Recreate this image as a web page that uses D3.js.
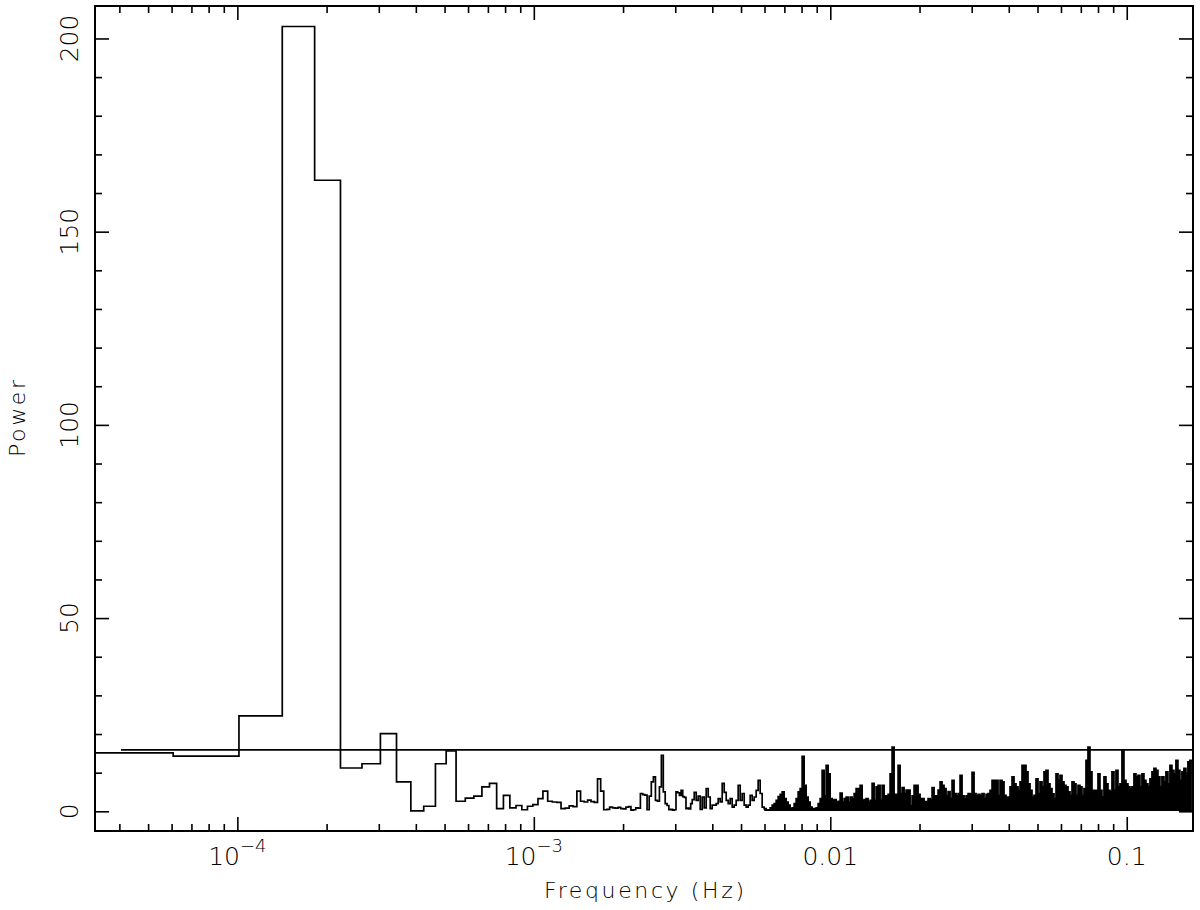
<!DOCTYPE html>
<html>
<head>
<meta charset="utf-8">
<script src="https://cdn.jsdelivr.net/npm/d3@7"></script>
<style>
  body { margin: 0; background: #fff; }
  text { font-family: "DejaVu Sans", sans-serif; font-weight: 200; fill: #000; }
</style>
</head>
<body>
<div id="chart"></div>
<script>
// Frequency resolution of the periodogram (Hz), bin k is centred on k*df
const df = 4.05e-5;

// Power of the first 84 Fourier bins
const lowPower = [
  15.1, 14.3, 24.7, 203.1, 163.3, 11.2, 12.3, 20.1, 7.6, 0.1,
  1.3, 12.3, 15.6, 2.6, 3.4, 3.9, 6.3, 7.2, 0.7, 4.1,
  0.9, 1.5, 0.4, 1.3, 1.7, 3.3, 5.2, 2.6, 2.4, 2.3,
  0.7, 0.8, 1.4, 1.2, 5.2, 2.6, 2.4, 2.9, 2.5, 2.3,
  8.4, 5.2, 0.4, 0.5, 1.1, 0.9, 0.8, 1.0, 0.7, 0.6,
  1.1, 1.2, 0.3, 0.4, 0.9, 0.8, 4.6, 4.3, 4.2, 0.4,
  3.9, 7.6, 8.9, 2.8, 2.6, 6.3, 14.5, 5.0, 2.0, 1.5,
  0.4, 0.5, 0.3, 0.4, 5.0, 4.8, 4.1, 5.4, 3.8, 3.6,
  0.7, 0.8, 0.6, 2.0
];

// Above bin 84 the bins are narrower than a pixel:
// peak power in each of 250 log-spaced slices up to the Nyquist bin (4096)
const denseStart = 84.5 * df;
const denseEnd = 4096.5 * df;
const densePower = [
  3.0, 4.9, 2.8, 3.9, 0.5, 3.7, 0.9, 5.9, 3.7, 0.7,
  1.6, 1.6, 2.0, 3.3, 2.4, 7.2, 4.9, 2.8, 2.0, 3.3,
  1.1, 1.6, 2.8, 6.7, 2.8, 4.6, 1.6, 1.1, 1.6, 4.1,
  2.8, 3.7, 5.4, 8.0, 4.6, 1.1, 0.7, 0.3, 0.4, 0.9,
  1.6, 2.0, 2.8, 3.8, 4.4, 5.0, 3.3, 2.4, 1.6, 0.7,
  0.9, 2.0, 3.3, 5.0, 5.9, 14.2, 6.7, 3.7, 2.4, 1.1,
  0.7, 0.7, 0.9, 2.0, 3.3, 10.6, 4.0, 11.9, 9.7, 3.3,
  2.8, 3.0, 2.4, 2.6, 4.7, 2.4, 3.3, 3.7, 2.4, 3.7,
  3.3, 4.6, 5.9, 5.9, 6.7, 2.8, 3.0, 3.3, 2.4, 2.8,
  7.2, 2.8, 6.3, 6.7, 2.8, 6.7, 4.0, 4.0, 4.4, 9.7,
  16.6, 4.4, 4.4, 11.9, 4.6, 6.1, 4.6, 5.5, 5.5, 1.5,
  4.0, 6.7, 6.7, 4.4, 3.3, 3.3, 2.5, 2.5, 3.3, 2.9,
  6.1, 4.0, 4.0, 5.5, 7.6, 6.7, 5.9, 4.0, 5.1, 3.3,
  8.0, 4.6, 4.0, 4.6, 9.3, 4.0, 3.3, 4.0, 4.6, 4.4,
  10.1, 4.6, 4.0, 4.4, 4.0, 4.6, 3.3, 4.4, 4.6, 5.4,
  8.0, 8.0, 8.0, 4.1, 8.0, 7.6, 4.1, 3.7, 3.7, 6.3,
  8.9, 7.1, 6.3, 5.4, 7.6, 11.9, 11.9, 10.2, 7.1, 5.4,
  3.7, 4.1, 8.4, 4.6, 7.6, 6.3, 10.2, 10.6, 7.1, 5.9,
  4.5, 3.3, 9.7, 8.0, 9.3, 7.6, 6.7, 6.3, 5.0, 4.1,
  7.6, 7.1, 4.1, 6.7, 6.3, 4.1, 5.9, 13.2, 16.6, 10.2,
  5.4, 5.4, 5.4, 9.7, 5.4, 3.7, 8.9, 7.1, 5.4, 5.0,
  10.2, 5.4, 10.6, 6.3, 7.1, 15.8, 8.0, 7.1, 6.3, 5.9,
  6.3, 9.7, 8.9, 9.3, 6.3, 9.7, 8.0, 7.1, 6.3, 8.4,
  10.2, 11.1, 10.6, 8.9, 6.3, 8.9, 7.6, 10.2, 7.1, 11.9,
  10.6, 9.7, 13.2, 10.6, 8.0, 10.2, 11.1, 9.3, 12.8, 13.2
];
// slices from this index on are drawn as a solid mass
const denseFillFrom = 36;

// Horizontal reference level
const refLevel = 15.9;

// Axis ticks and labels
const xMajor = [1e-4, 1e-3, 1e-2, 1e-1];
const xMajorLabels = [["10", "−4"], ["10", "−3"], ["0.01", ""], ["0.1", ""]];
const yMajor = [0, 50, 100, 150, 200];
const yMajorLabels = ["0", "50", "100", "150", "200"];

// Set dimensions and margins
const margin = { top: 6, right: 7, bottom: 79, left: 95 };
const width = 1200 - margin.left - margin.right;
const height = 910 - margin.top - margin.bottom;

const svg = d3.select("#chart")
  .append("svg")
    .attr("width", 1200)
    .attr("height", 910)
  .append("g")
    .attr("transform", `translate(${margin.left},${margin.top})`);

// Scales
const x = d3.scaleLog().domain([3.31e-5, 0.1673]).range([0, width]);
const y = d3.scaleLinear().domain([-5.1, 208.4]).range([height, 0]);

// Minor ticks: 2..9 in every decade, 10 units on power
const xMinor = [];
[1e-5, 1e-4, 1e-3, 1e-2, 1e-1].forEach(dec => {
  d3.range(2, 10).forEach(m => {
    const v = m * dec;
    if (v > x.domain()[0] && v < x.domain()[1]) xMinor.push(v);
  });
});
const yMinor = d3.range(10, 210, 10).filter(v => v % 50 !== 0);

// Build step bins
const steps = lowPower.map((p, i) => ({ f0: (i + 0.5) * df, f1: (i + 1.5) * df, p }));
const ratio = denseEnd / denseStart;
const denseSteps = densePower.map((p, j) => ({
  f0: denseStart * Math.pow(ratio, j / densePower.length),
  f1: denseStart * Math.pow(ratio, (j + 1) / densePower.length),
  p
}));
const allSteps = steps.concat(denseSteps);
const last = allSteps[allSteps.length - 1];
const linePts = allSteps.map(s => ({ f: s.f0, p: s.p })).concat([{ f: last.f1, p: last.p }]);

// Clip to the frame
svg.append("clipPath").attr("id", "plotClip")
  .append("rect").attr("width", width).attr("height", height);

const plot = svg.append("g").attr("clip-path", "url(#plotClip)");

// Solid mass where the bins pile up
const fillSteps = denseSteps.slice(denseFillFrom);
const fillPts = fillSteps.map(s => ({ f: s.f0, p: s.p }))
  .concat([{ f: last.f1, p: last.p }]);
plot.append("path")
  .datum(fillPts)
  .attr("fill", "#000")
  .attr("d", d3.area()
    .x(d => x(d.f))
    .y0(y(0.1))
    .y1(d => y(d.p))
    .curve(d3.curveStepAfter));

// Periodogram as a histogram line
plot.append("path")
  .datum(linePts)
  .attr("fill", "none")
  .attr("stroke", "#000")
  .attr("stroke-width", 1.7)
  .attr("d", d3.line()
    .x(d => x(d.f))
    .y(d => y(d.p))
    .curve(d3.curveStepAfter));

// Reference level
plot.append("line")
  .attr("x1", x(df))
  .attr("x2", width)
  .attr("y1", y(refLevel))
  .attr("y2", y(refLevel))
  .attr("stroke", "#000")
  .attr("stroke-width", 1.7);

// Ticks on all four sides, pointing inwards
function ticks(axis, values, size, transform) {
  const g = svg.append("g")
    .attr("transform", transform)
    .call(axis.tickValues(values).tickSize(-size).tickFormat(""));
  g.select(".domain").remove();
  g.selectAll("line").attr("stroke", "#000").attr("stroke-width", 1.6);
}
ticks(d3.axisBottom(x), xMajor, 14, `translate(0,${height})`);
ticks(d3.axisBottom(x), xMinor, 7, `translate(0,${height})`);
ticks(d3.axisTop(x), xMajor, 14, "translate(0,0)");
ticks(d3.axisTop(x), xMinor, 7, "translate(0,0)");
ticks(d3.axisLeft(y), yMajor, 14, "translate(0,0)");
ticks(d3.axisLeft(y), yMinor, 7, "translate(0,0)");
ticks(d3.axisRight(y), yMajor, 14, `translate(${width},0)`);
ticks(d3.axisRight(y), yMinor, 7, `translate(${width},0)`);

// Frame
svg.append("rect")
  .attr("width", width)
  .attr("height", height)
  .attr("fill", "none")
  .attr("stroke", "#000")
  .attr("stroke-width", 2);

// X tick labels
xMajor.forEach((v, i) => {
  const t = svg.append("text")
    .attr("x", x(v))
    .attr("y", height + 34)
    .attr("text-anchor", "middle")
    .style("font-size", "25px");
  t.append("tspan").text(xMajorLabels[i][0]);
  if (xMajorLabels[i][1]) {
    t.append("tspan")
      .attr("dy", -13)
      .style("font-size", "18px")
      .text(xMajorLabels[i][1]);
  }
});

// Y tick labels, rotated
yMajor.forEach((v, i) => {
  svg.append("text")
    .attr("transform", `translate(${-17},${y(v)}) rotate(-90)`)
    .attr("text-anchor", "middle")
    .style("font-size", "25px")
    .text(yMajorLabels[i]);
});

// Axis titles
svg.append("text")
  .attr("x", width / 2)
  .attr("y", height + 67)
  .attr("text-anchor", "middle")
  .attr("textLength", 200)
  .attr("lengthAdjust", "spacing")
  .style("font-size", "22px")
  .text("Frequency (Hz)");

svg.append("text")
  .attr("transform", `translate(${-70},${height / 2}) rotate(-90)`)
  .attr("text-anchor", "middle")
  .attr("textLength", 77)
  .attr("lengthAdjust", "spacing")
  .style("font-size", "22px")
  .text("Power");
</script>
</body>
</html>
